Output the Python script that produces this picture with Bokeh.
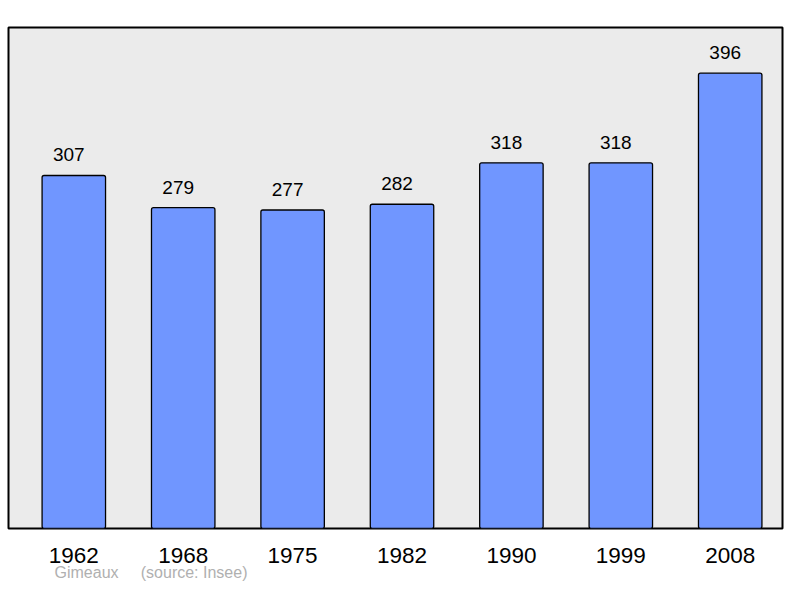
from bokeh.plotting import figure
from bokeh.models import ColumnDataSource, LabelSet, FixedTicker, Range1d
from bokeh.core.properties import value
from bokeh.embed import file_html
from bokeh.resources import INLINE

years = ["1962", "1968", "1975", "1982", "1990", "1999", "2008"]
population = [307, 279, 277, 282, 318, 318, 396]
commune = "Gimeaux"
source_text = "(source: Insee)"

idx = list(range(len(years)))
src = ColumnDataSource(dict(x=idx, top=population, label=[str(v) for v in population]))

X0, X1 = -0.597, 6.478

p = figure(width=784, height=582, output_backend="svg", toolbar_location=None,
           x_range=Range1d(X0, X1), y_range=Range1d(0, 435.7),
           y_axis_location=None, min_border_left=8, min_border_right=2,
           min_border_top=27, min_border_bottom=54)
p.frame_width = 774
p.frame_height = 501
p.background_fill_color = "#ebebeb"
p.border_fill_color = "white"
p.outline_line_color = "black"
p.outline_line_width = 2
p.grid.visible = False

p.vbar(x="x", top="top", width=0.58, bottom=0, source=src,
       fill_color="#7096ff", line_color="black", line_width=1.3, border_radius=2)

labels = LabelSet(x="x", y="top", text="label", source=src, x_offset=-5, y_offset=14,
                  text_align="center", text_baseline="alphabetic",
                  text_font=value("Liberation Sans"), text_font_size=value("19px"),
                  text_color="black")
p.add_layout(labels)

ax = p.xaxis[0]
ax.ticker = FixedTicker(ticks=idx)
ax.major_label_overrides = {i: y for i, y in zip(idx, years)}
ax.axis_line_color = None
ax.major_tick_line_color = None
ax.minor_tick_line_color = None
ax.major_tick_out = 0
ax.major_tick_in = 0
ax.major_label_standoff = 19
ax.major_label_text_font = "Liberation Sans"
ax.major_label_text_font_size = "22.5px"
ax.major_label_text_color = "black"

# footer drawn as the (centred) axis label, padded on the right so that it
# starts near the left of the chart
nb = "\u00a0"
ax.axis_label = commune + nb * 4 + " " + source_text + nb * 110
ax.axis_label_standoff = -2
ax.axis_label_text_font = "Liberation Sans"
ax.axis_label_text_font_size = "16px"
ax.axis_label_text_font_style = "normal"
ax.axis_label_text_color = "#b0b0b0"

open("out.html", "w").write(file_html(p, INLINE))
